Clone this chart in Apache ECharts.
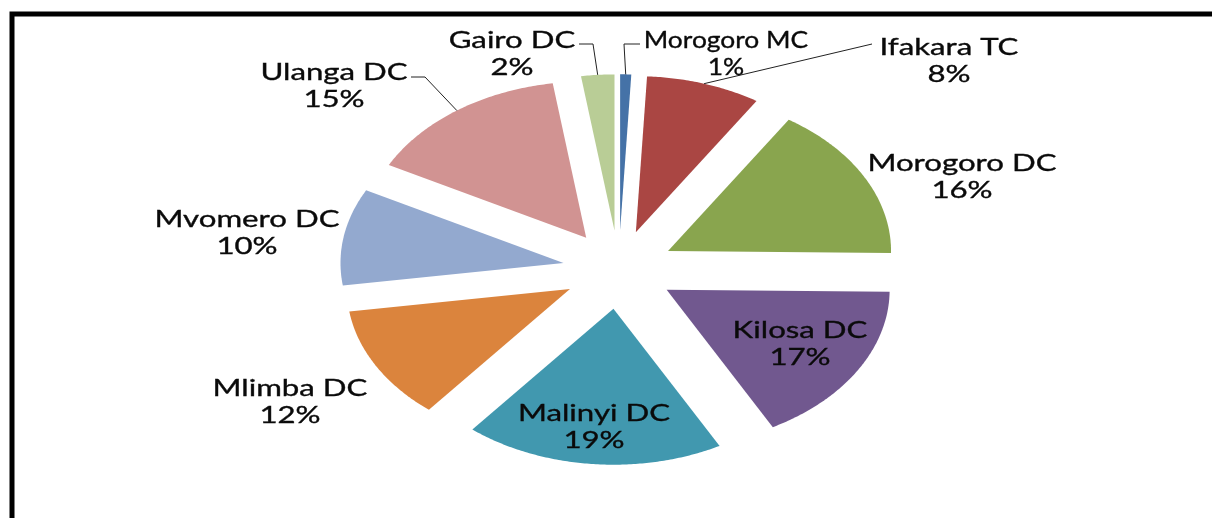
<!DOCTYPE html>
<html>
<head>
<meta charset="utf-8">
<script src="https://cdn.jsdelivr.net/npm/echarts@6/dist/echarts.min.js"></script>
<style>
html,body{margin:0;padding:0;background:#fff;}
#chart{width:1212px;height:518px;}
</style>
</head>
<body>
<div id="chart"></div>
<script>
// ---- data (percent share) ----
const categories = ['Morogoro MC','Ifakara TC','Morogoro DC','Kilosa DC','Malinyi DC','Mlimba DC','Mvomero DC','Ulanga DC','Gairo DC'];
const values = [0.8, 8.3, 16.1, 16.9, 18.8, 11.8, 10.0, 14.9, 2.4];
const colors = ['#4572A7','#AA4643','#89A54E','#71588F','#4198AF','#DB843D','#93A9CF','#D19392','#B9CD96'];

// ---- layout (not data) ----
const PIE = {cx: 618.7, cy: 269.6, r: 223, k: 0.7, explode: 56};
const labelPos = [[726,54],[949,61],[962,177],[800,344],[594,427],[290,402],[247,233],[334,86],[512,54]];
const labelScaleX = [1.1,1.3,1.3,1.3,1.3,1.3,1.3,1.3,1.3];
const leaderPts = {
  0: [[640,44],[624,44]],
  1: [[872,44]],
  7: [[411,77],[425,77]],
  8: [[579,44],[593,44]]
};

const total = values.reduce((a,b)=>a+b,0);
const starts = [];
{ let acc = 0; values.forEach(v => { starts.push(acc); acc += v; }); }

function pt(ox, oy, rad, ang){
  return [ox + rad*Math.sin(ang), oy - PIE.k*rad*Math.cos(ang)];
}

function renderItem(params, api){
  const i = params.dataIndex;
  const v = api.value(0);
  const a0 = starts[i]/total*2*Math.PI;
  const a1 = (starts[i]+v)/total*2*Math.PI;
  const am = (a0+a1)/2;
  const o = pt(PIE.cx, PIE.cy, PIE.explode, am);
  const points = [o];
  const n = Math.max(4, Math.ceil((a1-a0)/0.01));
  for (let j=0;j<=n;j++){
    points.push(pt(o[0], o[1], PIE.r, a0 + (a1-a0)*j/n));
  }
  const pct = Math.round(v/total*100) + '%';
  const children = [{
    type:'polygon',
    shape:{points},
    style:{fill: colors[i], stroke: null}
  }];
  if (leaderPts[i]){
    const anchor = pt(o[0], o[1], PIE.r, am);
    children.push({
      type:'polyline', z2: 5,
      shape:{points: leaderPts[i].concat([anchor])},
      style:{stroke:'#222', lineWidth:1, fill:null}
    });
  }
  children.push({
    type:'text', z2: 10,
    x: labelPos[i][0], y: labelPos[i][1],
    scaleX: labelScaleX[i],
    style:{
      text: categories[i] + '\n' + pct,
      fill:'#0a0a0a', fontSize:24, fontFamily:'Lato',
      stroke:'#0a0a0a', lineWidth:0.35,
      align:'center', verticalAlign:'middle', lineHeight:27
    }
  });
  return {type:'group', children};
}

const chart = echarts.init(document.getElementById('chart'), null, {renderer:'canvas'});
chart.setOption({
  backgroundColor:'#fff',
  animation:false,
  graphic:[{
    type:'rect', z:100,
    shape:{x:12, y:14, width:1400, height:800},
    style:{fill:null, stroke:'#000', lineWidth:5}
  }],
  series:[{
    type:'custom',
    coordinateSystem:'none',
    renderItem,
    data: values.map((v,i)=>({name:categories[i], value:v}))
  }]
});
</script>
</body>
</html>
